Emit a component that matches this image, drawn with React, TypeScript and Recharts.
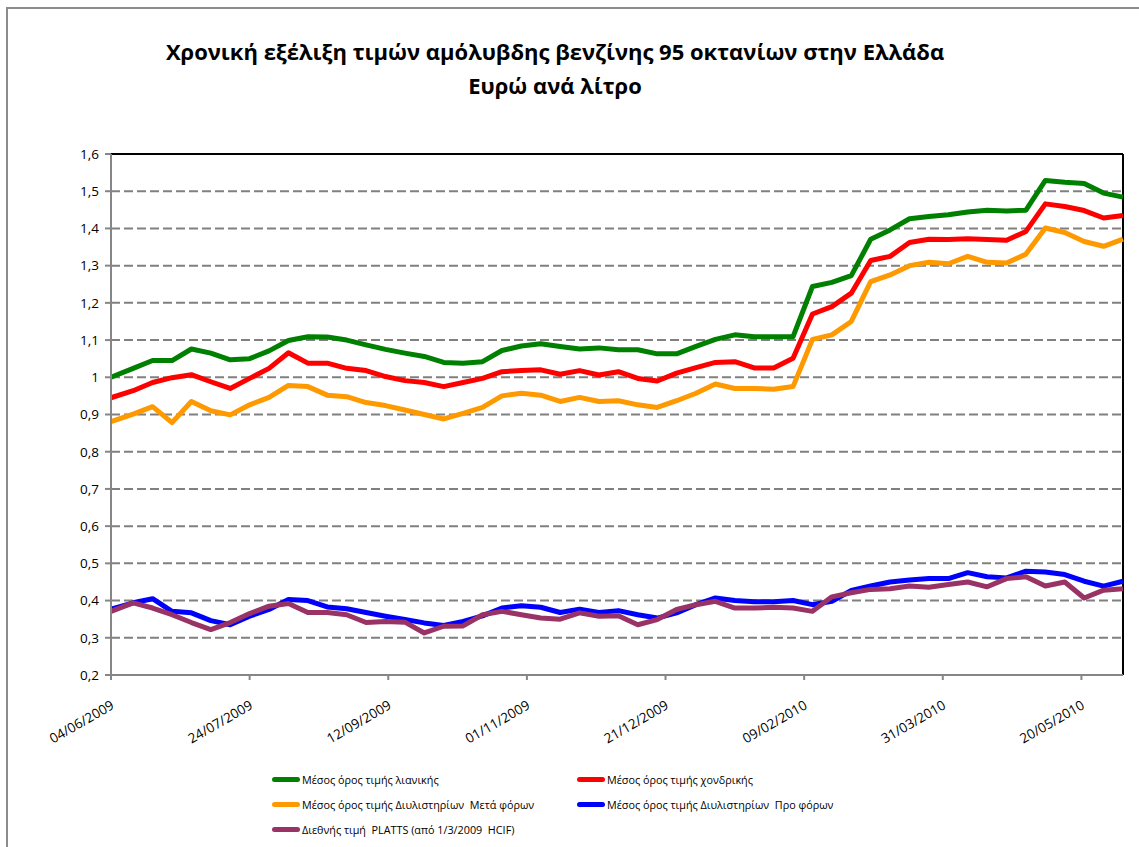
import { CartesianGrid, Line, LineChart, ReferenceLine, XAxis, YAxis } from 'recharts';

const dates = [
  '04/06/2009', '12/06/2009', '19/06/2009', '26/06/2009', '03/07/2009', '10/07/2009', '17/07/2009',
  '24/07/2009', '31/07/2009', '07/08/2009', '14/08/2009', '21/08/2009', '28/08/2009', '04/09/2009',
  '11/09/2009', '18/09/2009', '25/09/2009', '02/10/2009', '09/10/2009', '16/10/2009', '23/10/2009',
  '30/10/2009', '06/11/2009', '13/11/2009', '20/11/2009', '27/11/2009', '04/12/2009', '11/12/2009',
  '18/12/2009', '25/12/2009', '01/01/2010', '08/01/2010', '15/01/2010', '22/01/2010', '29/01/2010',
  '05/02/2010', '12/02/2010', '19/02/2010', '26/02/2010', '05/03/2010', '12/03/2010', '19/03/2010',
  '26/03/2010', '02/04/2010', '09/04/2010', '16/04/2010', '23/04/2010', '30/04/2010', '07/05/2010',
  '14/05/2010', '21/05/2010', '28/05/2010', '04/06/2010',
];

const retail = [
  1.0, 1.024, 1.045, 1.045, 1.076, 1.065, 1.047, 1.05, 1.071, 1.099, 1.109, 1.108, 1.1, 1.087, 1.075,
  1.065, 1.056, 1.04, 1.038, 1.042, 1.072, 1.084, 1.09, 1.083, 1.076, 1.079, 1.074, 1.074, 1.063, 1.063,
  1.083, 1.102, 1.114, 1.109, 1.109, 1.109, 1.244, 1.255, 1.273, 1.371, 1.396, 1.426, 1.432, 1.437,
  1.444, 1.449, 1.447, 1.449, 1.529, 1.524, 1.521, 1.495, 1.484,
];
const wholesale = [
  0.945, 0.964, 0.986, 0.999, 1.007, 0.988, 0.97, 0.997, 1.024, 1.066, 1.038, 1.038, 1.024, 1.018, 1.002,
  0.991, 0.986, 0.975, 0.986, 0.997, 1.015, 1.018, 1.02, 1.008, 1.018, 1.006, 1.015, 0.997, 0.99, 1.011,
  1.026, 1.04, 1.042, 1.025, 1.025, 1.051, 1.17, 1.19, 1.226, 1.314, 1.325, 1.362, 1.371, 1.37, 1.372,
  1.37, 1.368, 1.392, 1.466, 1.459, 1.448, 1.428, 1.435,
];
const refineryAfterTax = [
  0.881, 0.901, 0.921, 0.878, 0.935, 0.91, 0.899, 0.926, 0.946, 0.978, 0.975, 0.952, 0.948, 0.932, 0.924,
  0.912, 0.9, 0.888, 0.903, 0.919, 0.95, 0.957, 0.952, 0.935, 0.946, 0.935, 0.937, 0.926, 0.919, 0.937,
  0.957, 0.982, 0.97, 0.97, 0.968, 0.975, 1.102, 1.114, 1.15, 1.257, 1.275, 1.3, 1.309, 1.305, 1.325,
  1.309, 1.307, 1.331, 1.401, 1.389, 1.365, 1.352, 1.371,
];
const refineryBeforeTax = [
  0.377, 0.394, 0.405, 0.371, 0.367, 0.346, 0.335, 0.358, 0.376, 0.403, 0.4, 0.383, 0.378, 0.368, 0.358,
  0.349, 0.34, 0.333, 0.344, 0.359, 0.38, 0.386, 0.382, 0.368, 0.377, 0.368, 0.373, 0.362, 0.353, 0.367,
  0.389, 0.407, 0.4, 0.397, 0.397, 0.4, 0.389, 0.398, 0.427, 0.439, 0.45, 0.455, 0.459, 0.459, 0.475,
  0.464, 0.461, 0.479, 0.477, 0.47, 0.452, 0.439, 0.452,
];
const platts = [
  0.371, 0.394, 0.38, 0.362, 0.341, 0.322, 0.341, 0.365, 0.385, 0.392, 0.368, 0.368, 0.362, 0.341, 0.344,
  0.342, 0.313, 0.331, 0.332, 0.362, 0.371, 0.362, 0.353, 0.35, 0.367, 0.358, 0.359, 0.335, 0.349, 0.376,
  0.389, 0.398, 0.38, 0.38, 0.382, 0.38, 0.371, 0.41, 0.421, 0.43, 0.432, 0.439, 0.436, 0.443, 0.45,
  0.437, 0.459, 0.464, 0.439, 0.45, 0.407, 0.428, 0.432,
];

const xTickLabels = [
  '04/06/2009', '24/07/2009', '12/09/2009', '01/11/2009',
  '21/12/2009', '09/02/2010', '31/03/2010', '20/05/2010',
];
const yTicks = [0.2, 0.3, 0.4, 0.5, 0.6, 0.7, 0.8, 0.9, 1.0, 1.1, 1.2, 1.3, 1.4, 1.5, 1.6];

const series = [
  { key: 'retail', name: 'Μέσος όρος τιμής λιανικής', color: '#008000', values: retail },
  { key: 'wholesale', name: 'Μέσος όρος τιμής χονδρικής', color: '#ff0000', values: wholesale },
  { key: 'after', name: 'Μέσος όρος τιμής Διυλιστηρίων  Μετά φόρων', color: '#ff9900', values: refineryAfterTax },
  { key: 'before', name: 'Μέσος όρος τιμής Διυλιστηρίων  Προ φόρων', color: '#0000ff', values: refineryBeforeTax },
  { key: 'platts', name: 'Διεθνής τιμή  PLATTS (από 1/3/2009  HCIF)', color: '#993366', values: platts },
];

const FONT = "'Open Sans', sans-serif";

function toDay(s: string) {
  const [d, m, y] = s.split('/').map(Number);
  return Date.UTC(y, m - 1, d) / 86400000;
}
const day0 = toDay(dates[0]);

const data = dates.map((d, i) => {
  const row: Record<string, number | string> = { day: toDay(d) - day0, date: d };
  series.forEach((s) => {
    row[s.key] = s.values[i];
  });
  return row;
});

const xTicks = xTickLabels.map((d) => toDay(d) - day0);
const xLabelByDay: Record<number, string> = {};
xTickLabels.forEach((d, i) => {
  xLabelByDay[xTicks[i]] = d;
});

function DateTick(props: any) {
  const { x, y, payload } = props;
  const ax = x + 4;
  const ay = y + 26;
  return (
    <text
      x={ax}
      y={ay}
      transform={`rotate(-30, ${ax}, ${ay})`}
      textAnchor="end"
      fontSize={13.5}
      fontFamily={FONT}
      fill="#000"
    >
      {xLabelByDay[payload.value]}
    </text>
  );
}

function LegendBox() {
  const cols = [272, 577];
  const rows = [779, 804, 829];
  return (
    <>
      {series.map((s, i) => {
        const left = cols[i % 2];
        const top = rows[Math.floor(i / 2)];
        return (
          <div
            key={s.key}
            style={{
              position: 'absolute',
              left,
              top: top - 9,
              height: 18,
              display: 'flex',
              alignItems: 'center',
              whiteSpace: 'pre',
              fontFamily: FONT,
              fontSize: 10.8,
              color: '#000',
            }}
          >
            <span
              style={{
                display: 'inline-block',
                width: 28,
                height: 5,
                borderRadius: 3,
                background: s.color,
                marginRight: 2,
              }}
            />
            {s.name}
          </div>
        );
      })}
    </>
  );
}

export default function App() {
  return (
    <div
      style={{
        position: 'fixed',
        left: 0,
        top: 0,
        width: 1139,
        height: 847,
        overflow: 'hidden',
        background: '#fff',
      }}
    >
      <div
        style={{
          position: 'absolute',
          left: 6,
          top: 7,
          width: 1160,
          height: 900,
          border: '2px solid #8c8c8c',
        }}
      />
      <div
        style={{
          position: 'absolute',
          left: 0,
          width: 1110,
          top: 34,
          textAlign: 'center',
          fontFamily: FONT,
          fontWeight: 700,
          fontSize: 22,
          lineHeight: '34px',
          color: '#000',
        }}
      >
        Χρονική εξέλιξη τιμών αμόλυβδης βενζίνης 95 οκτανίων στην Ελλάδα
        <br />
        Ευρώ ανά λίτρο
      </div>
      <div style={{ position: 'absolute', left: 0, top: 0 }}>
        <LineChart
          width={1139}
          height={760}
          data={data}
          margin={{ top: 154, right: 16, bottom: 25, left: 51 }}
        >
          <CartesianGrid
            horizontal
            vertical={false}
            stroke="#808080"
            strokeWidth={2}
            strokeDasharray="9 4"
          />
          <XAxis
            dataKey="day"
            type="number"
            domain={[0, 365]}
            ticks={xTicks}
            interval={0}
            height={60}
            tick={<DateTick />}
            axisLine={{ stroke: '#868686', strokeWidth: 2 }}
            tickLine={{ stroke: '#868686', strokeWidth: 2 }}
            tickSize={5}
          />
          <YAxis
            type="number"
            domain={[0.2, 1.6]}
            ticks={yTicks}
            interval={0}
            width={60}
            tickFormatter={(v: number) => String(Math.round(v * 10) / 10).replace('.', ',')}
            tick={{ fontSize: 13.5, fontFamily: FONT, fill: '#000' }}
            axisLine={{ stroke: '#868686', strokeWidth: 2 }}
            tickLine={{ stroke: '#868686', strokeWidth: 2 }}
            tickSize={6}
            tickMargin={6}
          />
          <ReferenceLine y={1.6} stroke="#000" strokeWidth={2} ifOverflow="visible" />
          <ReferenceLine x={365} stroke="#000" strokeWidth={2} ifOverflow="visible" />
          {series.map((s) => (
            <Line
              key={s.key}
              type="linear"
              dataKey={s.key}
              name={s.name}
              stroke={s.color}
              strokeWidth={5}
              strokeLinejoin="round"
              dot={false}
              activeDot={false}
              isAnimationActive={false}
            />
          ))}
        </LineChart>
      </div>
      <LegendBox />
    </div>
  );
}
